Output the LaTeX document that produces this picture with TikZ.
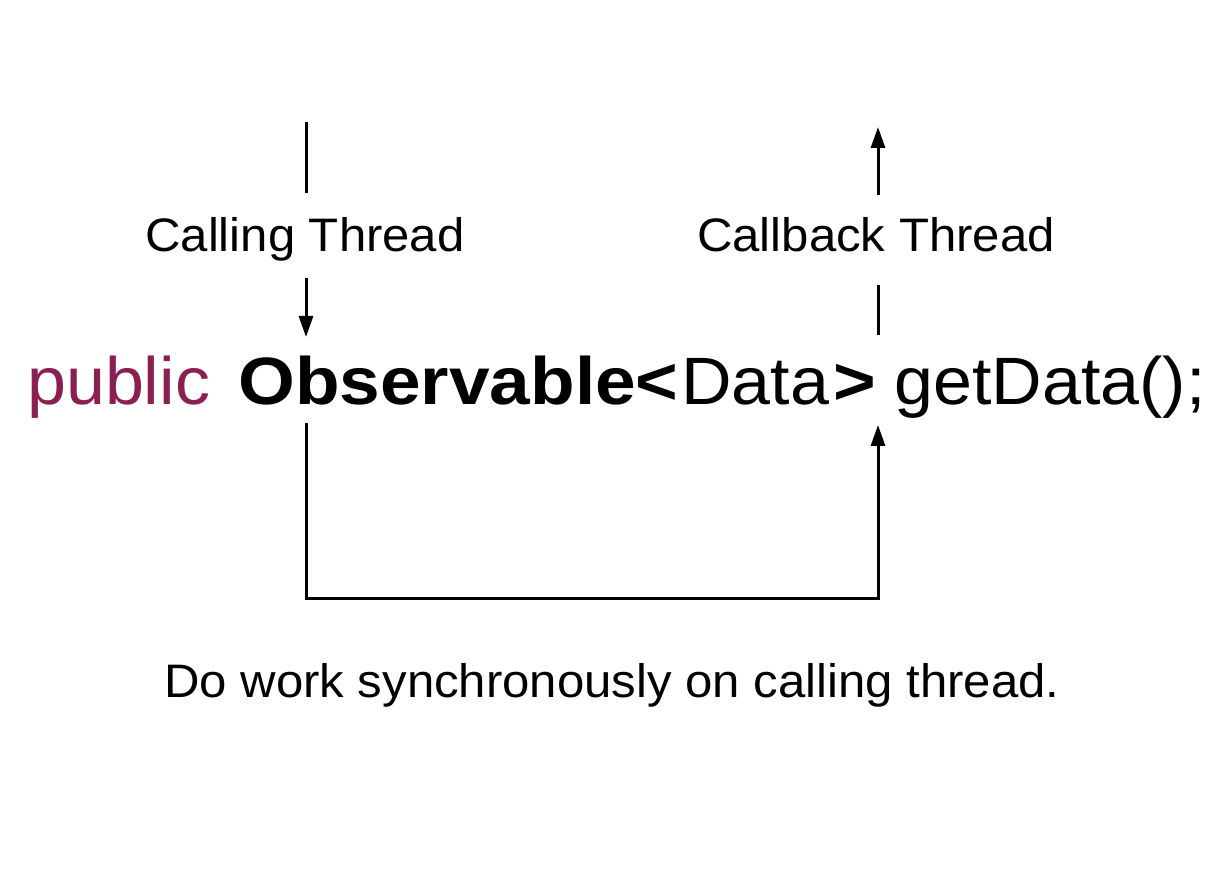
\documentclass[tikz,border=0pt]{standalone}
\usepackage{fontspec}
\setmainfont{Liberation Sans}[FakeStretch=1.045]
\newfontfamily\wideb{Liberation Sans}[FakeStretch=1.09]
\usetikzlibrary{arrows.meta}
\definecolor{kw}{HTML}{8C1F52}
\begin{document}
\begin{tikzpicture}[x=1pt,y=-1pt,
  wire/.style={line width=3pt},
  arr/.style={wire,-{Triangle[length=21pt,width=14pt]}},
  lbl/.style={inner sep=0pt,anchor=base,font=\fontsize{47}{50}\selectfont},
  code/.style={inner sep=0pt,anchor=base west,font=\fontsize{67}{70}\selectfont},
  codeb/.style={code,font=\fontsize{67}{70}\selectfont\wideb\bfseries}]
\useasboundingbox (0,0) rectangle (1227,874);
\fill[white] (0,0) rectangle (1227,874);
% labels
\node[lbl] (calling) at (305,252) {Calling Thread};
\node[lbl] (callback) at (876,252) {Callback Thread};
\node[lbl] (note) at (612,697) {Do work synchronously on calling thread.};
% code line
\node[code,text=kw] (pub) at (27,405) {public};
\node[codeb] (obs) at (238,405) {Observable};
\node[codeb] (lt) at (635,405) {<};
\node[code] (data) at (681,405) {Data};
\node[codeb] (gt) at (833,405) {>};
\node[code] (get) at (894,405) {getData();};
% coordinates
\coordinate (a0) at (306,122);
\coordinate (a1) at (306,193);
\coordinate (a2) at (306,278);
\coordinate (a3) at (306,337);
\coordinate (b0) at (306,423);
\coordinate (b1) at (306,598);
\coordinate (b2) at (878,598);
\coordinate (b3) at (878,425);
\coordinate (c0) at (878,335);
\coordinate (c1) at (878,285);
\coordinate (c2) at (878,195);
\coordinate (c3) at (878,127);
% connectors
\draw[wire] (a0) -- (a1);
\draw[arr] (a2) -- (a3);
\draw[arr] (b0) -- (b1) -- (b2) -- (b3);
\draw[wire] (c0) -- (c1);
\draw[arr] (c2) -- (c3);
\end{tikzpicture}
\end{document}
